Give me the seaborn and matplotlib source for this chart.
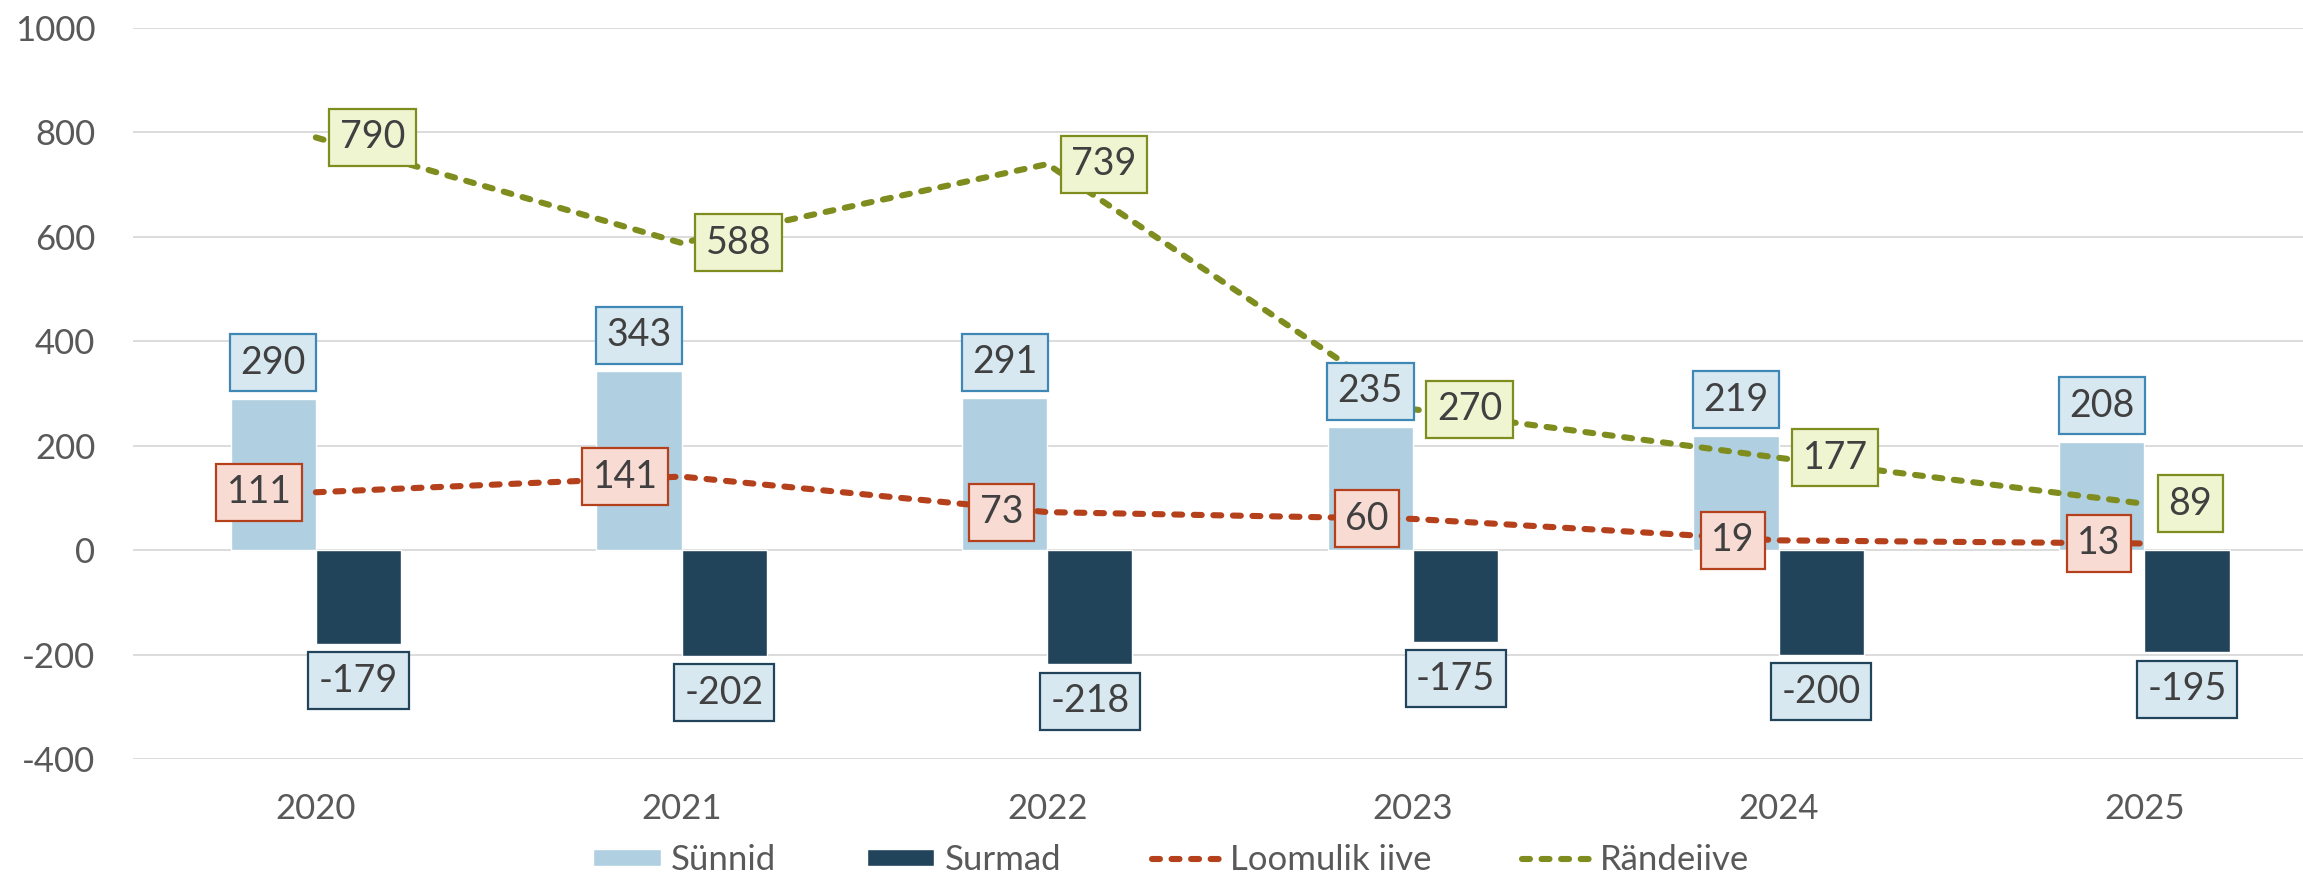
import numpy as np
import pandas as pd
import matplotlib
matplotlib.use("Agg")
import matplotlib.pyplot as plt
import seaborn as sns
from matplotlib.lines import Line2D
from matplotlib.patches import Patch

years = ["2020", "2021", "2022", "2023", "2024", "2025"]
synnid = [290, 343, 291, 235, 219, 208]
surmad = [-179, -202, -218, -175, -200, -195]
loomulik_iive = [111, 141, 73, 60, 19, 13]
randeiive = [790, 588, 739, 270, 177, 89]

C_SYNNID = "#b0cfe1"
C_SURMAD = "#21445a"
C_LOOM = "#b5401c"
C_RANDE = "#7f8c1e"
TXT = "#404040"
AX_TXT = "#595959"

sns.set_theme(style="white")
plt.rcParams["font.family"] = ["Lato", "DejaVu Sans"]
plt.rcParams["axes.unicode_minus"] = False

fig = plt.figure(figsize=(23.03, 8.81), dpi=100)
ax = fig.add_axes([133 / 2303, 1 - 759.3 / 881, (2315 - 133) / 2303, (759.3 - 27.7) / 881])

bars = pd.DataFrame({
    "aasta": years * 2,
    "väärtus": synnid + surmad,
    "näitaja": ["Sünnid"] * len(years) + ["Surmad"] * len(years),
})
sns.barplot(data=bars, x="aasta", y="väärtus", hue="näitaja",
            palette=[C_SYNNID, C_SURMAD], width=0.466, gap=0,
            dodge=True, saturation=1, legend=False, ax=ax, zorder=2)

idx = np.arange(len(years))
LW = 4.4
dash = (0, (1.3, 1.9))
sns.lineplot(x=idx, y=loomulik_iive, color=C_LOOM, linewidth=LW,
             linestyle=dash, dash_capstyle="round", ax=ax, zorder=3)
sns.lineplot(x=idx, y=randeiive, color=C_RANDE, linewidth=LW,
             linestyle=dash, dash_capstyle="round", ax=ax, zorder=3)

ax.set_xlim(-0.5, -0.5 + (2303 - 133) / 363.7)
ax.set_ylim(-400, 1000)
ax.set_yticks(range(-400, 1001, 200))
ax.set_xlabel("")
ax.set_ylabel("")
ax.grid(axis="y", color="#d9d9d9", linewidth=1.3, zorder=0)
ax.set_axisbelow(True)
for s in ax.spines.values():
    s.set_visible(False)
ax.tick_params(axis="y", length=0, pad=27, labelsize=25, labelcolor=AX_TXT)
ax.tick_params(axis="x", length=0, pad=24, labelsize=25, labelcolor=AX_TXT)


def label(x, y, text, dx, dy, ha, face, edge):
    ax.annotate(text, (x, y), xytext=(dx, dy), textcoords="offset pixels",
                ha=ha, va="center", fontsize=27, color=TXT, zorder=6,
                bbox=dict(boxstyle="square,pad=0.28", fc=face, ec=edge, lw=1.6))


off = 0.1166
for i in idx:
    label(i - off, synnid[i], str(synnid[i]), 0, 36, "center", "#d7e8f1", "#3f88b5")
    label(i + off, surmad[i], str(surmad[i]), 0, -37, "center", "#d7e8f1", C_SURMAD)
    label(i, loomulik_iive[i], str(loomulik_iive[i]), -24, 0, "right", "#f8dcd4", C_LOOM)
    label(i, randeiive[i], str(randeiive[i]), 24, 0, "left", "#eff5d0", C_RANDE)

handles = [
    Patch(facecolor=C_SYNNID, label="Sünnid"),
    Patch(facecolor=C_SURMAD, label="Surmad"),
    Line2D([], [], color=C_LOOM, lw=LW, linestyle=dash, dash_capstyle="round", label="Loomulik iive"),
    Line2D([], [], color=C_RANDE, lw=LW, linestyle=dash, dash_capstyle="round", label="Rändeiive"),
]
leg = fig.legend(handles=handles, loc="center", bbox_to_anchor=(1171 / 2303, 1 - 860 / 881),
                 ncol=4, frameon=False, fontsize=25, handlelength=1.95, handleheight=0.4,
                 handletextpad=0.3, columnspacing=2.6, borderpad=0, labelcolor=AX_TXT)

fig.savefig("out.png", dpi=100)
